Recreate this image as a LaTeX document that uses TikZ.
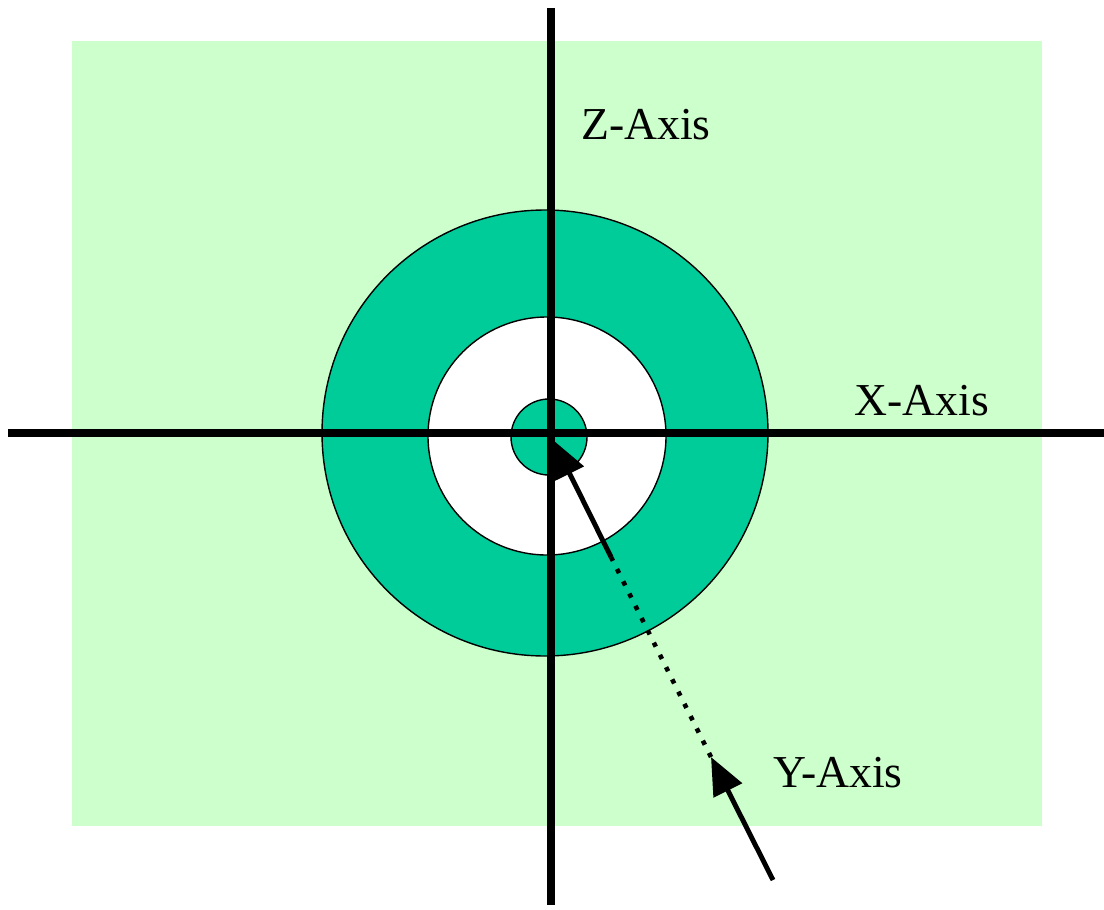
\documentclass[tikz,border=0pt]{standalone}
\usepackage{fontspec}
\setmainfont{Liberation Serif}
\usetikzlibrary{arrows.meta}
\definecolor{bgreen}{RGB}{204,255,204}
\definecolor{dgreen}{RGB}{0,204,153}
\begin{document}
\begin{tikzpicture}[x=0.02cm,y=-0.02cm,
  axisline/.style={line width=4pt},
  ring/.style={draw=black,line width=0.8pt},
  lbl/.style={font=\fontsize{26}{30}\selectfont,inner sep=0pt},
  yarrow/.style={line width=2.8pt,-{Triangle[length=0.75cm,width=0.62cm]}},
  ydots/.style={line width=2.6pt,dash pattern=on 2.6pt off 5.2pt}]
\useasboundingbox (0,0) rectangle (1104,909);
\fill[bgreen] (72,41) rectangle (1042,826);
\draw[ring,fill=dgreen] (545,433) circle[radius=223];
\draw[ring,fill=white] (547,436) circle[radius=119];
\draw[ring,fill=dgreen] (549,437) circle[radius=38];
\coordinate (ztop) at (551,8);
\coordinate (zbot) at (551,905);
\coordinate (xl) at (8,433);
\coordinate (xr) at (1104,433);
\draw[axisline] (ztop) -- (zbot);
\draw[axisline] (xl) -- (xr);
\coordinate (ystart) at (773,880);
\coordinate (ytip2) at (711,757);
\coordinate (ydot) at (611,557);
\coordinate (ytip1) at (553,440);
\draw[yarrow] (ystart) -- (ytip2);
\draw[ydots] (ytip2) -- (ydot);
\draw[yarrow] (ydot) -- (ytip1);
\node[lbl] (zl) at (646,125) {Z-Axis};
\node[lbl] (xlbl) at (922,401) {X-Axis};
\node[lbl] (ylbl) at (838,773) {Y-Axis};
\end{tikzpicture}
\end{document}
